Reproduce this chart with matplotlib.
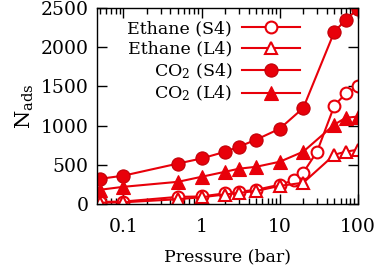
import matplotlib.pyplot as plt
from matplotlib.ticker import LogLocator, NullFormatter, FixedLocator

plt.rcParams.update({'font.family': 'DejaVu Serif', 'font.size': 12,
                     'mathtext.fontset': 'dejavuserif'})

# pressures (bar)
p_eth_s4 = [0.05, 0.1, 0.5, 1, 2, 3, 5, 10, 15, 20, 30, 50, 70, 100]
n_eth_s4 = [25, 30, 90, 95, 135, 155, 180, 245, 300, 400, 667, 1256, 1410, 1500]

p_eth_l4 = [0.05, 0.1, 0.5, 1, 2, 3, 5, 10, 20, 50, 70, 100]
n_eth_l4 = [15, 20, 60, 85, 120, 140, 165, 230, 270, 628, 667, 692]

p_co2 = [0.05, 0.1, 0.5, 1, 2, 3, 5, 10, 20, 50, 70, 100]
n_co2_s4 = [320, 360, 515, 580, 665, 730, 820, 960, 1225, 2200, 2350, 2490]
n_co2_l4 = [180, 218, 282, 346, 410, 449, 474, 538, 667, 1013, 1100, 1115]

red = '#e8000a'

fig = plt.figure(figsize=(3.8, 2.69), dpi=100)
ax = fig.add_axes([0.255, 0.242, 0.687, 0.728])

ms = 8.5
ax.plot(p_eth_s4, n_eth_s4, '-o', color=red, mfc='white', mec=red, mew=1.5,
        ms=ms, lw=1.5, label='Ethane (S4)')
ax.plot(p_eth_l4, n_eth_l4, '-^', color=red, mfc='white', mec=red, mew=1.5,
        ms=ms, lw=1.5, label='Ethane (L4)')
ax.plot(p_co2, n_co2_s4, '-o', color=red, mfc=red, mec='#c00008', mew=0.8,
        ms=ms + 1, lw=1.5, label='CO$_2$ (S4)')
ax.plot(p_co2, n_co2_l4, '-^', color=red, mfc=red, mec=red, mew=0.8,
        ms=ms + 1, lw=1.5, label='CO$_2$ (L4)')

ax.set_xscale('log')
ax.set_xlim(0.046, 100)
ax.set_ylim(0, 2500)
ax.xaxis.set_major_locator(FixedLocator([0.1, 1, 10, 100]))
ax.set_xticklabels(['0.1', '1', '10', '100'])
ax.xaxis.set_minor_locator(LogLocator(base=10, subs=range(2, 10), numticks=20))
ax.xaxis.set_minor_formatter(NullFormatter())
ax.set_yticks([0, 500, 1000, 1500, 2000, 2500])

ax.tick_params(which='both', direction='in', top=True, right=True, width=1,
               labelsize=13.5)
ax.tick_params(which='major', length=7)
ax.tick_params(which='minor', length=4)
ax.tick_params(axis='x', pad=10)
ax.tick_params(axis='y', pad=6)
for s in ax.spines.values():
    s.set_linewidth(1)

ax.set_xlabel('Pressure (bar)', labelpad=9, fontsize=12.5)
ax.set_ylabel('N$_{\\mathrm{ads}}$', labelpad=3, fontsize=15)

ax.legend(loc='upper left', frameon=False, markerfirst=False, fontsize=12.5,
          handlelength=3.3, handletextpad=0.6, labelspacing=0.2,
          borderaxespad=0.3, bbox_to_anchor=(0.07, 1.0))

fig.savefig('out.png', dpi=100)
